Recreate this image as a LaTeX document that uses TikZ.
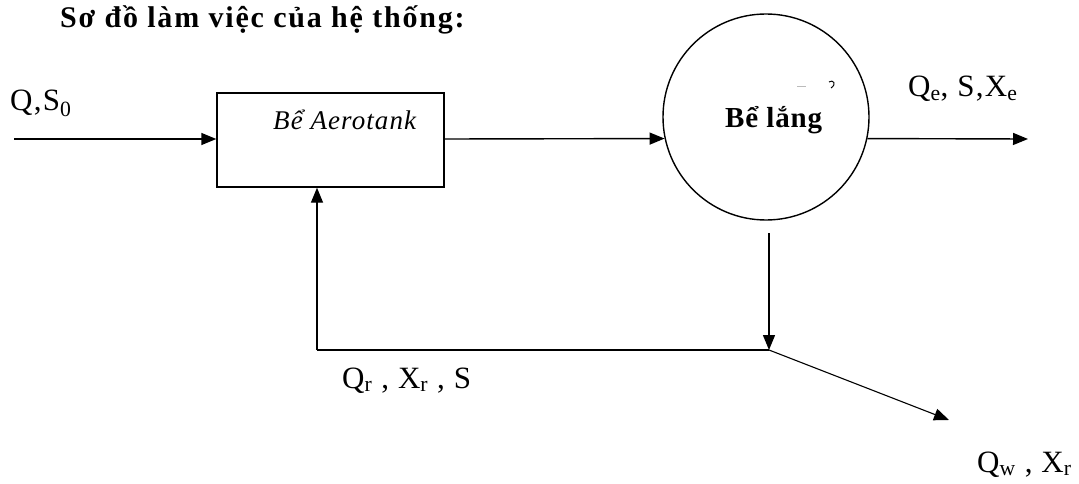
\documentclass[tikz,border=0pt]{standalone}
\usepackage{fontspec}
\setmainfont{Liberation Serif}
\usetikzlibrary{positioning,arrows.meta}
\definecolor{figline}{HTML}{000000}
\definecolor{figmuted}{HTML}{BBBBBB}

\begin{document}
\begin{tikzpicture}[
  x=1pt, y=-1pt,
  tank/.style={draw=figline, line width=1.4pt, minimum width=227pt, minimum height=94pt, inner sep=0pt},
  settler/.style={draw=figline, line width=1.4pt, circle, minimum size=206pt, inner sep=0pt},
  flow/.style={-{Triangle[length=15pt, width=12pt]}, draw=figline, line width=1.4pt},
  pipe/.style={draw=figline, line width=1.4pt},
  qlab/.style={font=\fontsize{31}{34}\selectfont\addfontfeatures{LetterSpace=4}, text=figline,
               inner sep=0pt, anchor=base west}
]
\useasboundingbox (0,0) rectangle (1079,484);
\node[font=\fontsize{30}{34}\selectfont\bfseries\addfontfeatures{LetterSpace=6}, anchor=base west,
      inner sep=0pt] (title) at (60,28) {Sơ đồ làm việc của hệ thống:};

% main units
\node[tank] (aero) at (330.5,140) {};
\node[font=\fontsize{27}{30}\selectfont\itshape\addfontfeatures{LetterSpace=4}, anchor=base west,
      inner sep=0pt] (aerolab) at (273,130) {Bể Aerotank};
\node[settler] (lang) at (766,117) {};
\node[font=\fontsize{29}{32}\selectfont\bfseries\addfontfeatures{LetterSpace=3}, anchor=base west,
      inner sep=0pt] (langlab) at (725,128) {Bể lắng};
% stray mark above the settler label
\draw[figmuted, line width=1pt] (797,87) -- (806,87);
\draw[figline, line width=1pt] (829,82) .. controls (833,79) and (837,84) .. (831,88);

% junction points
\coordinate (feed) at (14,139);
\coordinate (out) at (1028,139);
\coordinate (sludge) at (769,233);
\coordinate (split) at (769,350);
\coordinate (turn) at (317,350);
\coordinate (waste) at (949,420);

\draw[flow] (feed) -- (aero.west |- feed);
\draw[flow] (aero.east |- feed) -- (lang.192);
\draw[flow] (lang.348) -- (out);
\draw[flow] (sludge) -- (split);
\draw[pipe] (split) -- (turn);
\draw[flow] (turn) -- (turn |- aero.south);
\draw[flow, line width=1.1pt] (split) -- (waste);

% stream labels
\node[qlab] (qin) at (10,111) {Q,S\textsubscript{0}};
\node[qlab] (qe) at (908,97) {Q\textsubscript{e}, S,X\textsubscript{e}};
\node[qlab] (qr) at (342,388) {Q\textsubscript{r} , X\textsubscript{r} , S};
\node[qlab] (qw) at (977,472) {Q\textsubscript{w} , X\textsubscript{r}};
\end{tikzpicture}
\end{document}
